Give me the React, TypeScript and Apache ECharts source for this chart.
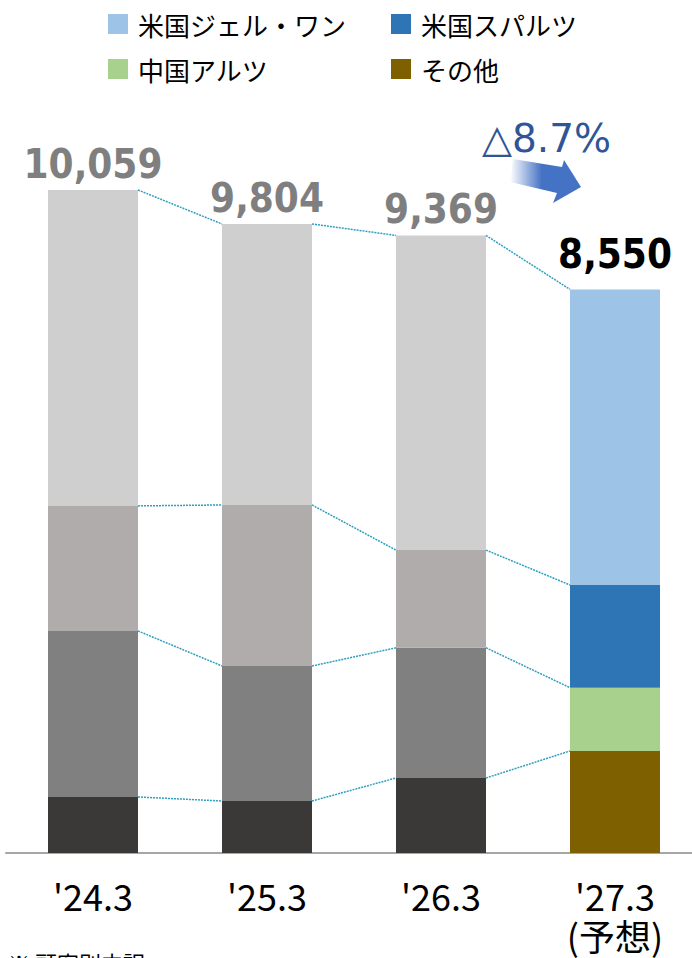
import React, { useEffect, useRef } from "react";
import * as echarts from "echarts";

const categories = ["'24.3", "'25.3", "'26.3", "'27.3\n(予想)"];
const totals = [10059, 9804, 9369, 8550];
const seriesNames = ["その他", "中国アルツ", "米国スパルツ", "米国ジェル・ワン"];
// bottom to top segments
const otherVals = [850, 789, 1138, 1548];
const chinaVals = [2519, 2048, 1975, 960];
const usSpartsVals = [1897, 2443, 1482, 1558];
const usGelOneVals = [4793, 4263, 4774, 4484];
const deltaText = "△8.7%";

const brandColors = ["#7f6000", "#a9d18e", "#2e75b6", "#9dc3e6"];
const grayColors = ["#3a3937", "#808080", "#afacab", "#d0cfd0"];

export default function App() {
  const ref = useRef<HTMLDivElement>(null);
  useEffect(() => {
    if (!ref.current) return;
    const chart = echarts.init(ref.current, null, { renderer: "svg" });
    const segs = [otherVals, chinaVals, usSpartsVals, usGelOneVals];
    const n = categories.length;
    const last = n - 1;

    const barSeries = segs.map((vals, s) => ({
      type: "bar",
      name: seriesNames[s],
      stack: "total",
      barWidth: 90,
      itemStyle: { color: brandColors[s] },
      data: vals.map((v, i) => ({
        value: v,
        itemStyle: { color: i === last ? brandColors[s] : grayColors[s] },
        label:
          s === 3
            ? {
                show: true,
                position: "top",
                distance: i === last ? 15 : 6,
                formatter: () => totals[i].toLocaleString("en-US"),
                color: i === last ? "#000000" : "#7f7f7f",
                fontFamily: "DejaVu Sans Condensed",
                fontWeight: "bold",
                fontSize: 40,
              }
            : { show: false },
      })),
    }));

    const cum: number[][] = [];
    for (let i = 0; i < n; i++) {
      let c = 0;
      const row: number[] = [];
      for (let s = 0; s < segs.length; s++) {
        c += segs[s][i];
        row.push(c);
      }
      cum.push(row);
    }
    const connData: number[][] = [];
    for (let i = 0; i < n - 1; i++) {
      for (let s = 0; s < segs.length; s++) {
        connData.push([i, cum[i][s], cum[i + 1][s]]);
      }
    }

    const legendText = {
      fontFamily: "Noto Sans CJK JP",
      fontSize: 26,
      lineHeight: 26,
      color: "#000",
      padding: [0, 0, 0, 5],
    };

    const option = {
      animation: false,
      grid: { left: 6, right: 0, top: 62, bottom: 105 },
      legend: [
        {
          left: 108,
          top: 11,
          orient: "vertical",
          padding: 0,
          itemWidth: 20,
          itemHeight: 20,
          itemGap: 19,
          icon: "rect",
          data: ["米国ジェル・ワン", "中国アルツ"],
          textStyle: legendText,
        },
        {
          left: 391,
          top: 11,
          orient: "vertical",
          padding: 0,
          itemWidth: 20,
          itemHeight: 20,
          itemGap: 19,
          icon: "rect",
          data: ["米国スパルツ", "その他"],
          textStyle: legendText,
        },
      ],
      xAxis: {
        type: "category",
        data: categories,
        axisLine: { lineStyle: { color: "#a6a6a6", width: 2 } },
        axisTick: { show: false },
        axisLabel: {
          fontFamily: "Noto Sans CJK JP",
          fontSize: 36,
          lineHeight: 40,
          color: "#000",
          margin: 22,
        },
      },
      yAxis: {
        type: "value",
        min: 0,
        max: 12000,
        show: false,
        splitLine: { show: false },
      },
      series: [
        ...barSeries,
        {
          type: "custom",
          name: "conn",
          data: connData,
          encode: { x: 0, y: [1, 2] },
          z: 5,
          renderItem: (params: any, api: any) => {
            const i = api.value(0);
            const p1 = api.coord([i, api.value(1)]);
            const p2 = api.coord([i + 1, api.value(2)]);
            const half = 45;
            return {
              type: "line",
              shape: { x1: p1[0] + half, y1: p1[1], x2: p2[0] - half, y2: p2[1] },
              style: { stroke: "#2e9fc0", lineWidth: 1.5, lineDash: [2, 1] },
            };
          },
        },
      ],
      graphic: [
        {
          type: "text",
          left: 482,
          top: 119,
          style: {
            text: deltaText,
            fontFamily: "DejaVu Sans",
            fontSize: 39,
            fill: "#2f5597",
          },
        },
        {
          type: "polygon",
          shape: {
            points: [
              [513, 159],
              [562, 167],
              [564, 160],
              [581, 187],
              [553, 203],
              [557, 193],
              [510, 182],
            ],
          },
          style: {
            fill: new echarts.graphic.LinearGradient(0, 0, 1, 0, [
              { offset: 0, color: "rgba(68,114,196,0)" },
              { offset: 0.45, color: "#4472c4" },
              { offset: 1, color: "#4472c4" },
            ]),
          },
        },
        {
          type: "text",
          left: 8,
          top: 951,
          style: {
            text: "※ 顧客別内訳",
            fontFamily: "Noto Sans CJK JP",
            fontSize: 22,
            fill: "#000",
          },
        },
      ],
    };
    chart.setOption(option as any);
    return () => chart.dispose();
  }, []);
  return (
    <div
      style={{
        position: "fixed",
        left: 0,
        top: 0,
        width: 692,
        height: 958,
        overflow: "hidden",
        background: "#fff",
      }}
    >
      <div ref={ref} style={{ width: 702, height: 958 }} />
    </div>
  );
}
